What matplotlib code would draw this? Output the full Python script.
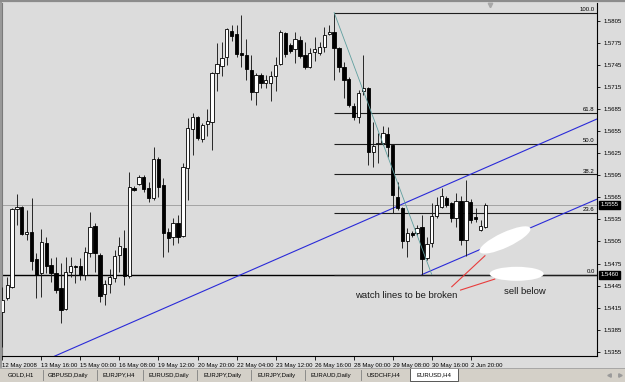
import matplotlib
matplotlib.use("Agg")
import matplotlib.pyplot as plt
from matplotlib.patches import Ellipse, Rectangle
from matplotlib.transforms import ScaledTranslation, blended_transform_factory

plt.rcParams['font.family'] = ['Liberation Sans', 'DejaVu Sans']

# ---------------- data (EURUSD, H4) ----------------
opens = [1.5409, 1.5428, 1.5443, 1.5549, 1.5552, 1.5515, 1.5518, 1.5481, 1.5462, 1.5503,
         1.5473, 1.5462, 1.5442, 1.5413, 1.5463, 1.5472, 1.5472, 1.5459, 1.5489, 1.5526,
         1.5486, 1.5433, 1.5447, 1.5455, 1.5486, 1.5496, 1.5458, 1.5578, 1.5583, 1.5593,
         1.5578, 1.5564, 1.5617, 1.5582, 1.5518, 1.5511, 1.5530, 1.5512, 1.5605, 1.5658,
         1.5674, 1.5644, 1.5665, 1.5667, 1.5734, 1.5743, 1.5756, 1.5791, 1.5787, 1.5761,
         1.5758, 1.5738, 1.5708, 1.5731, 1.5720, 1.5720, 1.5730, 1.5746, 1.5788, 1.5772,
         1.5766, 1.5779, 1.5758, 1.5742, 1.5762, 1.5761, 1.5769, 1.5787, 1.5790, 1.5768,
         1.5742, 1.5726, 1.5689, 1.5674, 1.5709, 1.5713, 1.5626, 1.5637, 1.5639, 1.5651,
         1.5636, 1.5565, 1.5550, 1.5506, 1.5516, 1.5516, 1.5525, 1.5482, 1.5503, 1.5539,
         1.5552, 1.5564, 1.5557, 1.5537, 1.5560, 1.5507, 1.5558, 1.5538, 1.5520, 1.5524]
highs = [1.5443, 1.5457, 1.5550, 1.5569, 1.5553, 1.5548, 1.5564, 1.5489, 1.5522, 1.5511,
         1.5482, 1.5484, 1.5476, 1.5484, 1.5484, 1.5473, 1.5482, 1.5497, 1.5545, 1.5530,
         1.5489, 1.5452, 1.5467, 1.5493, 1.5511, 1.5520, 1.5599, 1.5580, 1.5595, 1.5595,
         1.5586, 1.5633, 1.5620, 1.5591, 1.5523, 1.5537, 1.5541, 1.5612, 1.5673, 1.5679,
         1.5675, 1.5666, 1.5685, 1.5735, 1.5775, 1.5776, 1.5795, 1.5799, 1.5799, 1.5813,
         1.5780, 1.5758, 1.5734, 1.5734, 1.5731, 1.5737, 1.5756, 1.5792, 1.5790, 1.5775,
         1.5790, 1.5784, 1.5776, 1.5768, 1.5783, 1.5776, 1.5796, 1.5799, 1.5816, 1.5769,
         1.5749, 1.5728, 1.5693, 1.5711, 1.5758, 1.5715, 1.5667, 1.5652, 1.5662, 1.5660,
         1.5637, 1.5586, 1.5552, 1.5523, 1.5519, 1.5527, 1.5541, 1.5511, 1.5557, 1.5565,
         1.5578, 1.5567, 1.5559, 1.5571, 1.5567, 1.5588, 1.5562, 1.5550, 1.5534, 1.5557]
lows = [1.5361, 1.5425, 1.5442, 1.5527, 1.5514, 1.5507, 1.5466, 1.5428, 1.5429, 1.5462,
        1.5450, 1.5435, 1.5394, 1.5412, 1.5457, 1.5448, 1.5452, 1.5452, 1.5484, 1.5463,
        1.5423, 1.5418, 1.5435, 1.5450, 1.5463, 1.5446, 1.5455, 1.5573, 1.5582, 1.5572,
        1.5559, 1.5561, 1.5565, 1.5484, 1.5491, 1.5500, 1.5503, 1.5511, 1.5561, 1.5622,
        1.5643, 1.5640, 1.5648, 1.5629, 1.5709, 1.5730, 1.5745, 1.5777, 1.5756, 1.5742,
        1.5724, 1.5697, 1.5690, 1.5713, 1.5713, 1.5696, 1.5709, 1.5745, 1.5756, 1.5761,
        1.5747, 1.5754, 1.5739, 1.5741, 1.5750, 1.5758, 1.5762, 1.5785, 1.5724, 1.5735,
        1.5700, 1.5688, 1.5670, 1.5666, 1.5704, 1.5609, 1.5606, 1.5612, 1.5636, 1.5620,
        1.5544, 1.5548, 1.5496, 1.5484, 1.5511, 1.5514, 1.5460, 1.5480, 1.5497, 1.5537,
        1.5550, 1.5552, 1.5531, 1.5525, 1.5500, 1.5485, 1.5530, 1.5531, 1.5519, 1.5523]
closes = [1.5425, 1.5446, 1.5549, 1.5552, 1.5515, 1.5518, 1.5478, 1.5459, 1.5504, 1.5472,
          1.5462, 1.5439, 1.5412, 1.5463, 1.5472, 1.5470, 1.5459, 1.5490, 1.5524, 1.5489,
          1.5431, 1.5447, 1.5457, 1.5485, 1.5499, 1.5458, 1.5579, 1.5575, 1.5593, 1.5576,
          1.5564, 1.5617, 1.5579, 1.5516, 1.5510, 1.5530, 1.5511, 1.5606, 1.5659, 1.5674,
          1.5645, 1.5663, 1.5669, 1.5734, 1.5746, 1.5754, 1.5794, 1.5784, 1.5760, 1.5758,
          1.5739, 1.5708, 1.5731, 1.5720, 1.5724, 1.5730, 1.5745, 1.5790, 1.5760, 1.5764,
          1.5780, 1.5757, 1.5742, 1.5761, 1.5766, 1.5769, 1.5785, 1.5790, 1.5768, 1.5742,
          1.5724, 1.5690, 1.5674, 1.5707, 1.5713, 1.5626, 1.5635, 1.5639, 1.5652, 1.5633,
          1.5568, 1.5550, 1.5506, 1.5516, 1.5514, 1.5523, 1.5481, 1.5501, 1.5539, 1.5554,
          1.5567, 1.5554, 1.5537, 1.5560, 1.5507, 1.5560, 1.5534, 1.5535, 1.5526, 1.5555]

time_label_bars = [0, 8, 16, 24, 32, 40, 48, 56, 64, 72, 80, 88, 96]
time_labels = ["12 May 2008", "13 May 16:00", "15 May 00:00", "16 May 08:00",
               "19 May 12:00", "20 May 20:00", "22 May 04:00", "23 May 12:00",
               "26 May 16:00", "28 May 00:00", "29 May 08:00", "30 May 16:00",
               "2 Jun 20:00"]
price_ticks = [1.5355, 1.5385, 1.5415, 1.5445, 1.5475, 1.5505, 1.5535, 1.5565,
               1.5595, 1.5625, 1.5655, 1.5685, 1.5715, 1.5745, 1.5775, 1.5805]

fib_levels = [0.0, 23.6, 38.2, 50.0, 61.8, 100.0]
fib_high_bar, fib_high = 68, 1.5816
fib_low_bar, fib_low = 88, 1.5460
bid_price = 1.5555
hline_price = 1.5460
trend_a_bars, trend_a_prices = [20, 100], [1.5376, 1.5608]
trend_b_bars, trend_b_prices = [86, 100], [1.5460, 1.5500]

# annotations (bar index, price)
ellipses = [(103.0, 1.5507, 56, 15, 25), (105.4, 1.5461, 54, 14, 0)]
red_lines = [([92.1, 98.9], [1.54434, 1.54855]), ([93.9, 100.9], [1.54389, 1.54538])]
notes = [(72.3, 1.5432, "watch lines to be broken"), (102.8, 1.54375, "sell below")]

tabs = ["GOLD,H1", "GBPUSD,Daily", "EURJPY,H4", "EURUSD,Daily", "EURJPY,Daily",
        "EURJPY,Daily", "EURAUD,Daily", "USDCHF,H4", "EURUSD,H4"]
tab_centers = [20.5, 68, 118.5, 168.5, 222.5, 276.5, 331, 383.5, 433.5]
tab_seps = [43, 96.5, 143, 197, 250.5, 304.5, 361]

# ---------------- figure ----------------
W, H = 625, 382
BG = '#dcdcdc'
fig = plt.figure(figsize=(W / 100, H / 100), dpi=100)
fig.patch.set_facecolor(BG)

ax = fig.add_axes([2 / W, 26 / H, 595 / W, 353 / H])
ax.set_facecolor(BG)
X0, X1 = -0.06, 121.86
Y0, Y1 = 1.53493, 1.58290
ax.set_xlim(X0, X1)
ax.set_ylim(Y0, Y1)
ax.set_autoscale_on(False)

# bid line & horizontal line
ax.axhline(bid_price, color='#a4a4a4', lw=0.7, zorder=1)
ax.axhline(hline_price, color='black', lw=1.0, zorder=2)

# fibonacci
rng = fib_high - fib_low
for lvl in fib_levels:
    p = fib_low + rng * lvl / 100.0
    ax.hlines(p, fib_high_bar, X1, color='#1e1e1e', lw=0.8, zorder=2)
    ax.text(121.4, p + 0.00003, f"{lvl:.1f}", ha='right', va='bottom', fontsize=4.3,
            color='black', zorder=7)
ax.plot([fib_high_bar, fib_low_bar], [fib_high, fib_low], color='#5f9f9f', lw=0.6, zorder=5)


def extend(bx, py, xa, xb):
    s = (py[1] - py[0]) / (bx[1] - bx[0])
    return [xa, xb], [py[0] + s * (xa - bx[0]), py[0] + s * (xb - bx[0])]


lx, ly = extend(trend_a_bars, trend_a_prices, X0, X1)
ax.plot(lx, ly, color='#2a2ad8', lw=0.8, zorder=2)
lx, ly = extend(trend_b_bars, trend_b_prices, trend_b_bars[0], X1)
ax.plot(lx, ly, color='#2a2ad8', lw=0.8, zorder=2)

# candles
n = len(opens)
ax.vlines(range(n), lows, highs, color='#1a1a1a', lw=0.65, zorder=3)
for i in range(n):
    o, c = opens[i], closes[i]
    bottom = min(o, c)
    h = max(abs(c - o), 0.00007)
    fc = 'white' if c > o else 'black'
    ax.add_patch(Rectangle((i - 0.34, bottom), 0.68, h, facecolor=fc,
                           edgecolor='black', lw=0.6, zorder=4))

# ellipses (size in pixels)
for bx, p, w, h, ang in ellipses:
    e = Ellipse((0, 0), w, h, angle=ang, facecolor='white', edgecolor='none',
                transform=ScaledTranslation(bx, p, ax.transData), zorder=6, clip_on=False)
    ax.add_patch(e)

for xs_, ys_ in red_lines:
    ax.plot(xs_, ys_, color='#e83c3c', lw=0.8, zorder=6)
for bx, p, t in notes:
    ax.text(bx, p, t, fontsize=6.8, color='#1a1a1a', ha='left', va='center', zorder=7)

# axes styling
ax.yaxis.tick_right()
ax.set_yticks(price_ticks)
ax.set_yticklabels([f"{p:.4f}" for p in price_ticks])
ax.tick_params(axis='y', labelsize=4.3, length=2.5, width=0.6, pad=2, colors='black')
ax.set_xticks(time_label_bars)
ax.set_xticklabels(time_labels, ha='left')
ax.tick_params(axis='x', labelsize=4.3, length=3, width=0.6, pad=2, colors='black')
ax.spines['top'].set_visible(False)
ax.spines['left'].set_color('#7a7a7a')
ax.spines['right'].set_color('black')
ax.spines['bottom'].set_color('black')
for s in ('right', 'bottom', 'left'):
    ax.spines[s].set_linewidth(0.8)

trans = blended_transform_factory(ax.transAxes, ax.transData)
for p in (bid_price, hline_price):
    ax.text(1.0055, p, f"{p:.4f}", transform=trans, fontsize=4.3, color='white',
            ha='left', va='center', zorder=10, clip_on=False,
            bbox=dict(boxstyle='square,pad=0.25', fc='black', ec='black'))

# shift marker
ax.plot([100], [0.995], marker='v', ms=3.2, color='#a8a8a8',
        transform=blended_transform_factory(ax.transData, ax.transAxes), clip_on=False)

# ---------------- window chrome ----------------
ov = fig.add_axes([0, 0, 1, 1])
ov.set_xlim(0, W)
ov.set_ylim(H, 0)
ov.axis('off')
ov.patch.set_visible(False)
ov.add_patch(Rectangle((0, 367.5), W, 15, fc='#d4d0c8', ec='none'))
ov.plot([0, W], [367.5, 367.5], color='#a0a0a0', lw=0.6)
ov.plot([0, W], [0.8, 0.8], color='#8c8c8c', lw=1.6)
ov.plot([0.6, 0.6], [0, 367], color='#8c8c8c', lw=1.2)
for sx in tab_seps:
    ov.plot([sx, sx], [370, 380], color='#808080', lw=0.6)
ov.add_patch(Rectangle((410, 367.5), 48, 13.5, fc='white', ec='#404040', lw=0.6))
for t, cx in zip(tabs, tab_centers):
    ov.text(cx, 375, t, fontsize=4.3, color='black', ha='center', va='center')
ov.plot([609], [375], marker='<', ms=2.5, color='#9a9a9a')
ov.plot([620], [375], marker='>', ms=2.5, color='#9a9a9a')

fig.savefig('out.png', dpi=100, facecolor=fig.get_facecolor())
